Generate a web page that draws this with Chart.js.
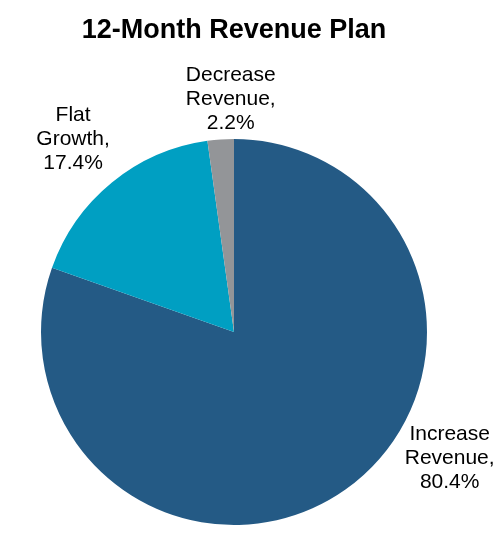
<!DOCTYPE html>
<html>
<head>
<meta charset="utf-8">
<script src="https://cdn.jsdelivr.net/npm/chart.js@4/dist/chart.umd.min.js"></script>
<style>
  html, body { margin: 0; padding: 0; background: #fff; }
  #wrap { width: 504px; height: 537px; }
</style>
</head>
<body>
<div id="wrap"><canvas id="myChart"></canvas></div>
<script>
const categories = ['Increase Revenue', 'Flat Growth', 'Decrease Revenue'];
const shares = [80.4, 17.4, 2.2];
const sliceColors = ['#245A85', '#009FC2', '#939598'];

// outside labels, placed along each slice's middle angle
const labelPlugin = {
  id: 'outLabels',
  afterDatasetsDraw(chart, args, opts) {
    const ctx = chart.ctx;
    const meta = chart.getDatasetMeta(0);
    ctx.save();
    ctx.font = '21px "Liberation Sans", Arial, sans-serif';
    ctx.fillStyle = '#000';
    ctx.textAlign = 'center';
    ctx.textBaseline = 'middle';
    meta.data.forEach((arc, i) => {
      const p = arc.getProps(['x', 'y', 'startAngle', 'endAngle', 'outerRadius']);
      const mid = (p.startAngle + p.endAngle) / 2;
      const r = p.outerRadius * opts.factor[i];
      const cx = p.x + Math.cos(mid) * r + opts.shift[i][0];
      const cy = p.y + Math.sin(mid) * r + opts.shift[i][1];
      const words = categories[i].split(' ');
      const lines = [words[0], words.slice(1).join(' ') + ',', shares[i].toFixed(1) + '%'];
      lines.forEach((t, k) => {
        ctx.fillText(t, cx, cy + (k - 1) * 24);
      });
    });
    ctx.restore();
  }
};

var ctx = document.getElementById('myChart').getContext('2d');
var chart = new Chart(ctx, {
  type: 'pie',
  data: {
    labels: categories,
    datasets: [{
      data: shares,
      backgroundColor: sliceColors,
      borderWidth: 0,
      hoverOffset: 0
    }]
  },
  options: {
    responsive: true,
    maintainAspectRatio: false,
    animation: false,
    layout: { padding: { left: 0, right: 36, top: 0, bottom: 12 } },
    plugins: {
      legend: { display: false },
      tooltip: { enabled: false },
      title: {
        display: true,
        text: '12-Month Revenue Plan',
        color: '#000',
        font: { family: '"Liberation Sans", Arial, sans-serif', size: 27, weight: 'bold', lineHeight: 1.2 },
        padding: { top: 14, bottom: 92.6 }
      },
      outLabels: {
        factor: [1.28, 1.31, 1.22],
        shift: [[73, -75], [-1, 3], [13, 2]]
      }
    }
  },
  plugins: [labelPlugin]
});
</script>
</body>
</html>
